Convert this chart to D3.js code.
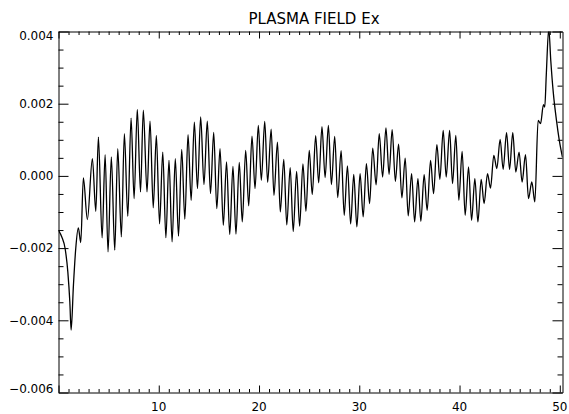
<!DOCTYPE html>
<html><head><meta charset="utf-8">
<script src="https://cdn.jsdelivr.net/npm/d3@7"></script>
<style>
body{margin:0;background:#fff}
svg{display:block}
text{font-family:"DejaVu Sans",sans-serif;fill:#000}
</style>
</head><body>
<svg id="chart" width="569" height="414"></svg>
<script>
const chartTitle = "PLASMA FIELD Ex";
const xDomain = [0, 50.27];
const yDomain = [-0.006, 0.004];
const xMajorTicks = [0, 10, 20, 30, 40, 50];
const xTickLabels = ["", "10", "20", "30", "40", "50"];
const yMajorTicks = [-0.006, -0.004, -0.002, 0, 0.002, 0.004];
const yTickLabels = ["\u22120.006", "\u22120.004", "\u22120.002", "0.000", "0.002", "0.004"];

// position along the domain
const xs = [
0.00,0.33,0.66,0.93,1.13,1.26,1.49,1.72,1.98,2.22,
2.48,2.88,3.38,3.72,3.98,4.35,4.65,4.94,5.27,5.61,
5.91,6.27,6.57,6.91,7.24,7.54,7.86,8.18,8.46,8.83,
9.13,9.45,9.76,10.08,10.40,10.71,11.02,11.33,11.65,11.97,
12.29,12.60,12.92,13.23,13.55,13.86,14.18,14.51,14.84,15.16,
15.48,15.79,16.11,16.44,16.76,17.08,17.40,17.70,18.03,18.33,
18.67,18.97,19.30,19.60,19.93,20.23,20.57,20.86,21.21,21.49,
21.84,22.12,22.47,22.77,23.11,23.41,23.75,24.05,24.38,24.68,
25.01,25.31,25.65,25.95,26.28,26.59,26.92,27.22,27.55,27.85,
28.19,28.50,28.82,29.14,29.45,29.76,30.08,30.39,30.71,31.03,
31.34,31.68,31.99,32.33,32.66,32.97,33.28,33.60,33.92,34.25,
34.58,34.88,35.22,35.52,35.85,36.14,36.47,36.77,37.11,37.41,
37.74,38.04,38.37,38.67,39.01,39.30,39.63,39.93,40.26,40.56,
40.90,41.20,41.53,41.83,42.16,42.45,42.79,43.09,43.42,43.72,
44.05,44.35,44.69,44.99,45.31,45.61,45.94,46.24,46.58,46.88,
47.21,47.51,47.84,48.08,48.37,48.50,48.65,48.90,49.10,49.35,
49.67,49.95,50.27];

// field Ex
const ex = [
-0.001505,-0.001690,-0.002011,-0.002658,-0.003488,-0.004271,-0.003026,-0.002011,-0.001441,-0.001845,
-0.000058,-0.001209,0.000479,-0.000979,0.001076,-0.001718,0.000589,-0.002105,0.000523,-0.002058,
0.000755,-0.001690,0.001170,-0.001118,0.001602,-0.000628,0.001842,-0.000445,0.001823,-0.000445,
0.001519,-0.000882,0.001123,-0.001328,0.000661,-0.001712,0.000432,-0.001829,0.000479,-0.001671,
0.000736,-0.001201,0.001142,-0.000675,0.001491,-0.000351,0.001635,-0.000238,0.001519,-0.000490,
0.001206,-0.000905,0.000755,-0.001367,0.000390,-0.001621,0.000266,-0.001610,0.000376,-0.001275,
0.000708,-0.000827,0.001104,-0.000351,0.001400,-0.000122,0.001510,-0.000177,0.001297,-0.000537,
0.000938,-0.000999,0.000459,-0.001358,0.000230,-0.001541,0.000127,-0.001394,0.000335,-0.000979,
0.000708,-0.000515,0.001115,-0.000191,0.001364,-0.000044,0.001400,-0.000241,0.001095,-0.000598,
0.000700,-0.001090,0.000279,-0.001331,0.000039,-0.001414,0.000064,-0.001137,0.000340,-0.000766,
0.000772,-0.000246,0.001170,-0.000030,0.001331,0.000044,0.001284,-0.000149,0.000880,-0.000606,
0.000495,-0.001109,0.000064,-0.001275,-0.000075,-0.001256,0.000036,-0.000952,0.000432,-0.000490,
0.000866,-0.000094,0.001261,-0.000030,0.001261,-0.000213,0.001123,-0.000675,0.000680,-0.001090,
0.000246,-0.001228,-0.000075,-0.001275,-0.000094,-0.000766,0.000064,-0.000335,0.000570,0.000202,
0.001012,0.000183,0.001198,0.000183,0.001198,0.000108,0.000661,-0.000169,0.000589,-0.000628,
-0.000169,-0.000722,0.001538,0.001447,0.001972,0.001906,0.002783,0.004080,0.003198,0.002313,
0.001538,0.000985,0.000515];

const W = 569, H = 414;
const mLeft = 58.5, mRight = 562.5, mTop = 31.5, mBottom = 392.5;

const svg = d3.select("#chart");
const x = d3.scaleLinear().domain(xDomain).range([mLeft, mRight]);
const y = d3.scaleLinear().domain(yDomain).range([mBottom, mTop]);

const xMinor = d3.range(1, 51, 1).filter(v => v % 10 !== 0);
const yMinor = d3.range(-0.0055, 0.0040, 0.0005).filter(v => Math.abs(Math.round(v / 0.002) * 0.002 - v) > 1e-9);

function styleAxis(g) {
  g.selectAll("path.domain").attr("stroke", "#000").attr("stroke-width", 1);
  g.selectAll(".tick line").attr("stroke", "#000").attr("stroke-width", 1);
  g.selectAll(".tick text").remove();
}

// Bottom axis (major + minor)
svg.append("g").attr("transform", `translate(0,${mBottom})`)
  .call(d3.axisBottom(x).tickValues(xMajorTicks).tickSizeInner(-7).tickSizeOuter(0).tickFormat(""))
  .call(styleAxis);
svg.append("g").attr("transform", `translate(0,${mBottom})`)
  .call(d3.axisBottom(x).tickValues(xMinor).tickSizeInner(-3.5).tickSizeOuter(0).tickFormat(""))
  .call(styleAxis).call(g => g.select("path.domain").remove());
// Top axis
svg.append("g").attr("transform", `translate(0,${mTop})`)
  .call(d3.axisTop(x).tickValues(xMajorTicks).tickSizeInner(-7).tickSizeOuter(0).tickFormat(""))
  .call(styleAxis);
svg.append("g").attr("transform", `translate(0,${mTop})`)
  .call(d3.axisTop(x).tickValues(xMinor).tickSizeInner(-3.5).tickSizeOuter(0).tickFormat(""))
  .call(styleAxis).call(g => g.select("path.domain").remove());
// Left axis
svg.append("g").attr("transform", `translate(${mLeft},0)`)
  .call(d3.axisLeft(y).tickValues(yMajorTicks).tickSizeInner(-10).tickSizeOuter(0).tickFormat(""))
  .call(styleAxis);
svg.append("g").attr("transform", `translate(${mLeft},0)`)
  .call(d3.axisLeft(y).tickValues(yMinor).tickSizeInner(-5).tickSizeOuter(0).tickFormat(""))
  .call(styleAxis).call(g => g.select("path.domain").remove());
// Right axis
svg.append("g").attr("transform", `translate(${mRight},0)`)
  .call(d3.axisRight(y).tickValues(yMajorTicks).tickSizeInner(-10).tickSizeOuter(0).tickFormat(""))
  .call(styleAxis);
svg.append("g").attr("transform", `translate(${mRight},0)`)
  .call(d3.axisRight(y).tickValues(yMinor).tickSizeInner(-5).tickSizeOuter(0).tickFormat(""))
  .call(styleAxis).call(g => g.select("path.domain").remove());

// Tick labels
svg.append("g").selectAll("text").data(xMajorTicks).join("text")
  .attr("x", d => x(d)).attr("y", mBottom + 18)
  .attr("text-anchor", "middle").attr("font-size", 12)
  .text((d, i) => xTickLabels[i]);
svg.append("g").selectAll("text").data(yMajorTicks).join("text")
  .attr("x", mLeft - 5).attr("y", d => y(d))
  .attr("dy", (d, i) => i === yMajorTicks.length - 1 ? 8 : (i === 0 ? 0.5 : 4.3))
  .attr("text-anchor", "end").attr("font-size", 12)
  .text((d, i) => yTickLabels[i]);

// Title
svg.append("text").attr("x", 314).attr("y", 24)
  .attr("text-anchor", "middle").attr("font-size", 15)
  .text(chartTitle);

// Curve
svg.append("clipPath").attr("id", "plotclip").append("rect")
  .attr("x", mLeft).attr("y", mTop).attr("width", mRight - mLeft).attr("height", mBottom - mTop);
const n = Math.min(xs.length, ex.length);
const pts = d3.range(n).map(i => [xs[i], ex[i]]);
const line = d3.line().x(d => x(d[0])).y(d => y(d[1])).curve(d3.curveMonotoneX);
svg.append("path").datum(pts)
  .attr("clip-path", "url(#plotclip)")
  .attr("fill", "none").attr("stroke", "#000").attr("stroke-width", 1.3)
  .attr("stroke-linejoin", "round")
  .attr("d", line);
</script>
</body></html>
